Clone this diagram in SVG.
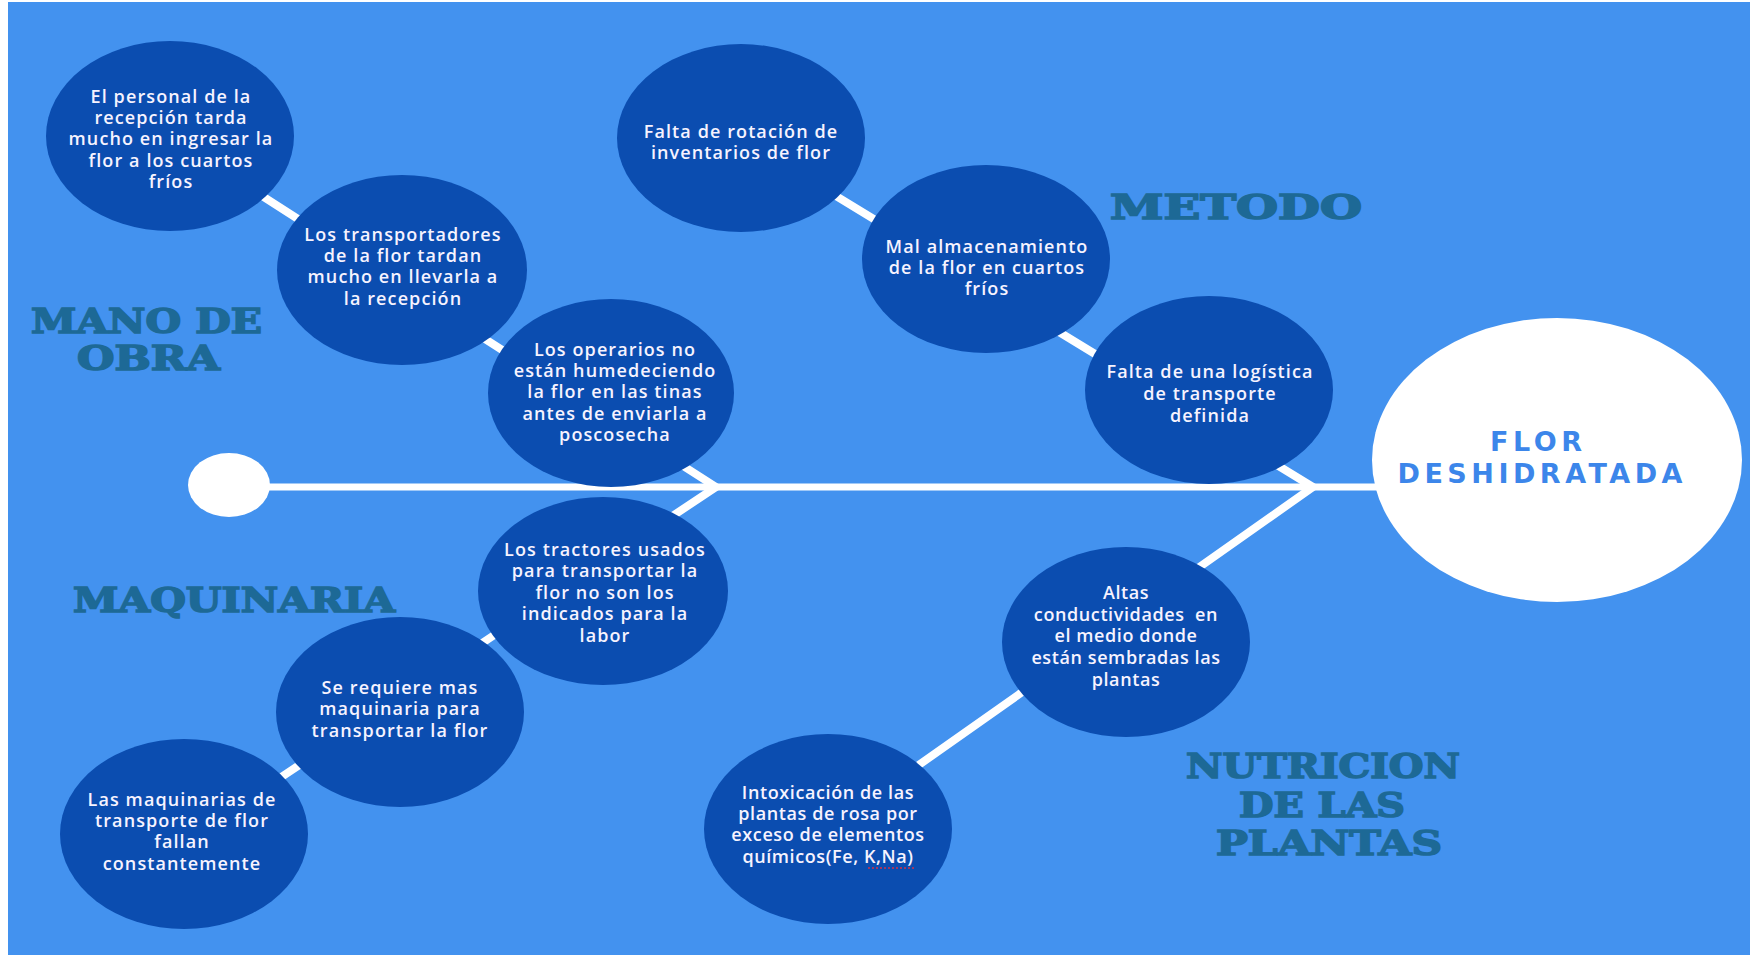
<svg xmlns="http://www.w3.org/2000/svg" width="1750" height="955" viewBox="0 0 1750 955">
  <style>
    .bg { fill: #4392EF; }
    .cause { fill: #0B4DB0; }
    .bone { fill: none; stroke: #FFFFFF; stroke-width: 8; stroke-linejoin: miter; }
    .spine { stroke: #FFFFFF; stroke-width: 7; }
    .txt { font-family: "Open Sans", "Noto Sans", sans-serif; font-size: 18px; font-weight: 600; fill: #F6F3FF; text-anchor: middle; letter-spacing: 1.1px; }
    .txt2 { font-family: "Open Sans", "Noto Sans", sans-serif; font-size: 18px; font-weight: 600; fill: #F6F3FF; text-anchor: middle; letter-spacing: 0.6px; }
    .cat { font-family: "DejaVu Serif", "Liberation Serif", serif; font-size: 33px; font-weight: bold; fill: #1D6996; stroke: #1D6996; stroke-width: 1.6; }
    .effect-txt { font-family: "DejaVu Sans", "Liberation Sans", sans-serif; font-size: 27px; font-weight: bold; fill: #3C86EA; text-anchor: middle; }
  </style>

  <!-- canvas -->
  <rect x="0" y="0" width="1750" height="955" fill="#FFFFFF"/>
  <rect class="bg" x="8" y="2" width="1742" height="953"/>

  <!-- bones of the fishbone -->
  <g id="connectors">
    <line class="spine" x1="265" y1="487" x2="1385" y2="487"/>
    <polyline class="bone" points="170,137 716,487 184,842"/>
    <polyline class="bone" points="741,138 1313,487 828,829"/>
  </g>

  <!-- tail -->
  <g id="tail">
    <ellipse cx="229" cy="485" rx="41" ry="32" fill="#FFFFFF"/>
  </g>

  <!-- effect head -->
  <g id="effect">
    <ellipse cx="1557" cy="460" rx="185" ry="142" fill="#FFFFFF"/>
    <text class="effect-txt" x="1536" y="451" textLength="92" lengthAdjust="spacing">FLOR</text>
    <text class="effect-txt" x="1540" y="483" textLength="285" lengthAdjust="spacing">DESHIDRATADA</text>
  </g>

  <!-- category labels -->
  <g id="cat-mano-de-obra">
    <text class="cat" x="31" y="333" textLength="231" lengthAdjust="spacingAndGlyphs">MANO DE</text>
    <text class="cat" x="77" y="370" textLength="143" lengthAdjust="spacingAndGlyphs">OBRA</text>
  </g>
  <g id="cat-metodo">
    <text class="cat" x="1110" y="219" textLength="252" lengthAdjust="spacingAndGlyphs" font-size="36">METODO</text>
  </g>
  <g id="cat-maquinaria">
    <text class="cat" x="73" y="612" textLength="322" lengthAdjust="spacingAndGlyphs" font-size="36">MAQUINARIA</text>
  </g>
  <g id="cat-nutricion">
    <text class="cat" x="1186" y="778" textLength="274" lengthAdjust="spacingAndGlyphs">NUTRICION</text>
    <text class="cat" x="1239" y="817" textLength="166" lengthAdjust="spacingAndGlyphs">DE LAS</text>
    <text class="cat" x="1216" y="855" textLength="226" lengthAdjust="spacingAndGlyphs">PLANTAS</text>
  </g>

  <!-- Mano de obra causes -->
  <g id="c1">
    <ellipse class="cause" cx="170" cy="136" rx="124" ry="95"/>
    <text class="txt" x="171" y="103">El personal de la</text>
    <text class="txt" x="171" y="124">recepción tarda</text>
    <text class="txt" x="171" y="145">mucho en ingresar la</text>
    <text class="txt" x="171" y="167">flor a los cuartos</text>
    <text class="txt" x="171" y="188">fríos</text>
  </g>
  <g id="c2">
    <ellipse class="cause" cx="402" cy="270" rx="125" ry="95"/>
    <text class="txt" x="403" y="241">Los transportadores</text>
    <text class="txt" x="403" y="262">de la flor tardan</text>
    <text class="txt" x="403" y="283">mucho en llevarla a</text>
    <text class="txt" x="403" y="305">la recepción</text>
  </g>
  <g id="c3">
    <ellipse class="cause" cx="611" cy="393" rx="123" ry="94"/>
    <text class="txt" x="615" y="356">Los operarios no</text>
    <text class="txt" x="615" y="377">están humedeciendo</text>
    <text class="txt" x="615" y="398">la flor en las tinas</text>
    <text class="txt" x="615" y="420">antes de enviarla a</text>
    <text class="txt" x="615" y="441">poscosecha</text>
  </g>

  <!-- Metodo causes -->
  <g id="c4">
    <ellipse class="cause" cx="741" cy="138" rx="124" ry="94"/>
    <text class="txt" x="741" y="138">Falta de rotación de</text>
    <text class="txt" x="741" y="159">inventarios de flor</text>
  </g>
  <g id="c5">
    <ellipse class="cause" cx="986" cy="259" rx="124" ry="94"/>
    <text class="txt" x="987" y="253">Mal almacenamiento</text>
    <text class="txt" x="987" y="274">de la flor en cuartos</text>
    <text class="txt" x="987" y="295">fríos</text>
  </g>
  <g id="c6">
    <ellipse class="cause" cx="1209" cy="390" rx="124" ry="94"/>
    <text class="txt" x="1210" y="378">Falta de una logística</text>
    <text class="txt" x="1210" y="400">de transporte</text>
    <text class="txt" x="1210" y="422">definida</text>
  </g>

  <!-- Maquinaria causes -->
  <g id="c7">
    <ellipse class="cause" cx="603" cy="591" rx="125" ry="94"/>
    <text class="txt" x="605" y="556">Los tractores usados</text>
    <text class="txt" x="605" y="577">para transportar la</text>
    <text class="txt" x="605" y="599">flor no son los</text>
    <text class="txt" x="605" y="620">indicados para la</text>
    <text class="txt" x="605" y="642">labor</text>
  </g>
  <g id="c8">
    <ellipse class="cause" cx="400" cy="712" rx="124" ry="95"/>
    <text class="txt" x="400" y="694">Se requiere mas</text>
    <text class="txt" x="400" y="715">maquinaria para</text>
    <text class="txt" x="400" y="737">transportar la flor</text>
  </g>
  <g id="c9">
    <ellipse class="cause" cx="184" cy="834" rx="124" ry="95"/>
    <text class="txt" x="182" y="806">Las maquinarias de</text>
    <text class="txt" x="182" y="827">transporte de flor</text>
    <text class="txt" x="182" y="848">fallan</text>
    <text class="txt" x="182" y="870">constantemente</text>
  </g>

  <!-- Nutricion causes -->
  <g id="c10">
    <ellipse class="cause" cx="1126" cy="642" rx="124" ry="95"/>
    <text class="txt2" x="1126" y="599">Altas</text>
    <text class="txt2" x="1126" y="621">conductividades&#160; en</text>
    <text class="txt2" x="1126" y="642">el medio donde</text>
    <text class="txt2" x="1126" y="664">están sembradas las</text>
    <text class="txt2" x="1126" y="686">plantas</text>
  </g>
  <g id="c11">
    <ellipse class="cause" cx="828" cy="829" rx="124" ry="95"/>
    <text class="txt2" x="828" y="799">Intoxicación de las</text>
    <text class="txt2" x="828" y="820">plantas de rosa por</text>
    <text class="txt2" x="828" y="841">exceso de elementos</text>
    <text class="txt2" x="828" y="863">químicos(Fe, K,Na)</text>
    <line x1="868" y1="868" x2="914" y2="868" stroke="#D0304A" stroke-width="1.5" stroke-dasharray="2 2"/>
  </g>
</svg>
